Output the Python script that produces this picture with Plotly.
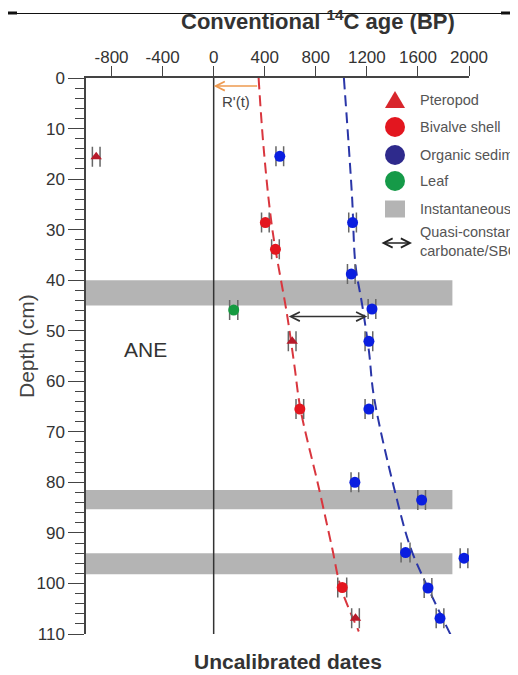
import plotly.graph_objects as go

# ---------------- data ----------------
pteropod_age = [-920, 615, 1111]
pteropod_depth = [15.6, 52.1, 106.9]
pteropod_err = [30, 30, 30]

bivalve_age = [405, 484, 675, 1007]
bivalve_depth = [28.6, 33.9, 65.5, 100.8]
bivalve_err = [30, 30, 30, 35]

organic_age = [518, 1088, 1078, 1240, 1216, 1216, 1106, 1629, 1503, 1961, 1679, 1773]
organic_depth = [15.5, 28.6, 38.8, 45.7, 52.1, 65.5, 80.0, 83.5, 93.9, 95.0, 100.9, 106.9]
organic_err = [30, 30, 30, 30, 30, 30, 30, 30, 35, 30, 30, 30]

leaf_age = [157]
leaf_depth = [45.9]
leaf_err = [32]

# age-depth model curves
red_curve_depth = [0, 14, 30, 47, 57, 65.5, 81, 93, 100.6, 109.5]
red_curve_age = [352, 392, 460, 576, 633, 680, 823, 928, 994, 1137]
blue_curve_depth = [0, 13.8, 24, 37, 45, 54, 63, 81, 93, 100.6, 110.2]
blue_curve_age = [1020, 1059, 1085, 1111, 1164, 1216, 1255, 1412, 1543, 1674, 1857]

# instantaneous deposits (depth ranges)
band_top = [40, 81.5, 94]
band_bottom = [45, 85.3, 98.2]
band_age_min = -1000
band_age_max = 1870

# offset arrows
offset_depth = 47.2
offset_ages = [576, 1203]
r_depth = 1.6
r_ages = [352, 0]

x_tickvals = [-800, -400, 0, 400, 800, 1200, 1600, 2000]
x_ticktext = ["-800", "-400", "0", "400", "800", "1200", "1600", "2000"]
y_tickvals = list(range(0, 111, 10))

# ---------------- layout helpers ----------------
OFF = 8  # page body margin
W, H = 510, 667
L, R, T, B = 78, 49, 70, 41
PW, PH = W - L - R, H - T - B


def px(x):  # window pixel -> paper
    return (x - OFF - L) / PW


def py(y):
    return 1 - (y - OFF - T) / PH


FONT = "Arial, 'Liberation Sans', sans-serif"
TXT = "#333333"
ERRC = "#666666"

fig = go.Figure()

# model curves
fig.add_trace(go.Scatter(x=red_curve_age, y=red_curve_depth, mode="lines",
                         line=dict(color="#d9363e", width=2, dash="11px,6px"),
                         line_shape="spline", hoverinfo="skip"))
fig.add_trace(go.Scatter(x=blue_curve_age, y=blue_curve_depth, mode="lines",
                         line=dict(color="#2a36a8", width=2, dash="11px,6px"),
                         line_shape="spline", hoverinfo="skip"))


def pts(x, y, err, color, symbol, size):
    return go.Scatter(
        x=x, y=y, mode="markers",
        marker=dict(color=color, symbol=symbol, size=size, line=dict(width=0)),
        error_x=dict(type="data", array=err, color=ERRC, thickness=1.5, width=10),
    )


fig.add_trace(pts(organic_age, organic_depth, organic_err, "#0a1ee0", "circle", 11))
fig.add_trace(pts(bivalve_age, bivalve_depth, bivalve_err, "#e3161f", "circle", 11))
fig.add_trace(pts(leaf_age, leaf_depth, leaf_err, "#159a40", "circle", 11))
fig.add_trace(pts(pteropod_age, pteropod_depth, pteropod_err, "#b81a2a", "triangle-up", 10))

shapes = []
for t0, b0 in zip(band_top, band_bottom):
    shapes.append(dict(type="rect", xref="x", yref="y", x0=band_age_min, x1=band_age_max,
                       y0=t0, y1=b0, fillcolor="#b4b4b4", line=dict(width=0), layer="below"))
# zero line
shapes.append(dict(type="line", xref="x", yref="y", x0=0, x1=0, y0=0, y1=110,
                   line=dict(color="#333333", width=1.5), layer="below"))

# page border line at top
shapes.append(dict(type="line", xref="paper", yref="paper", x0=px(0), x1=px(530), y0=py(13.5), y1=py(13.5),
                   line=dict(color="#111111", width=1.2)))
shapes.append(dict(type="line", xref="paper", yref="paper", x0=px(0), x1=px(17), y0=py(13), y1=py(13),
                   line=dict(color="#111111", width=3)))
shapes.append(dict(type="line", xref="paper", yref="paper", x0=px(501), x1=px(530), y0=py(13), y1=py(13),
                   line=dict(color="#111111", width=3)))

# legend symbols
LX = 395
leg_rows = [100, 127, 155, 181, 209]
# triangle
shapes.append(dict(type="path", xref="paper", yref="paper",
                   path=f"M {px(LX-10)},{py(leg_rows[0]+8)} L {px(LX+10)},{py(leg_rows[0]+8)} L {px(LX)},{py(leg_rows[0]-9)} Z",
                   fillcolor="#d8262c", line=dict(width=0)))
for yy, col in zip(leg_rows[1:4], ["#e3161f", "#2e2a8c", "#159a48"]):
    shapes.append(dict(type="circle", xref="paper", yref="paper",
                       x0=px(LX-10), x1=px(LX+10), y0=py(yy-10), y1=py(yy+10),
                       fillcolor=col, line=dict(width=0)))
shapes.append(dict(type="rect", xref="paper", yref="paper",
                   x0=px(LX-10), x1=px(LX+10), y0=py(leg_rows[4]-8.5), y1=py(leg_rows[4]+8.5),
                   fillcolor="#b4b4b4", line=dict(width=0)))

LEGF = dict(family=FONT, size=14.5, color="#555555")
annotations = []
leg_text = ["Pteropod", "Bivalve shell", "Organic sediment", "Leaf", "Instantaneous deposit"]
for yy, tx in zip(leg_rows, leg_text):
    annotations.append(dict(xref="paper", yref="paper", x=px(418), y=py(yy), text=tx,
                            showarrow=False, xanchor="left", yanchor="middle", font=LEGF))
annotations.append(dict(xref="paper", yref="paper", x=px(418), y=py(242), text="Quasi-constant<br>carbonate/SBC offset",
                        showarrow=False, xanchor="left", yanchor="middle", align="left", font=LEGF))
# legend double arrow
annotations.append(dict(xref="paper", yref="paper", x=px(412), y=py(243), ax=-32, ay=0,
                        axref="pixel", ayref="pixel", text="", showarrow=True,
                        arrowhead=5, startarrowhead=5, arrowside="end+start", arrowwidth=1.5,
                        arrowsize=1.2, startarrowsize=1.2, arrowcolor="#222222"))

# offset arrow in plot
annotations.append(dict(xref="x", yref="y", x=offset_ages[1], y=offset_depth, ax=offset_ages[0], ay=offset_depth,
                        axref="x", ayref="y", text="", showarrow=True,
                        arrowhead=5, startarrowhead=5, arrowside="end+start", arrowwidth=1.5,
                        arrowsize=1.2, startarrowsize=1.2, arrowcolor="#333333"))
# R'(t) arrow
annotations.append(dict(xref="x", yref="y", x=r_ages[1], y=r_depth, ax=r_ages[0], ay=r_depth,
                        axref="x", ayref="y", text="", showarrow=True,
                        arrowhead=5, arrowwidth=1.5, arrowsize=1.2, arrowcolor="#ee9a50"))


def label(x, y, text, size, color=TXT, **kw):
    annotations.append(dict(xref="paper", yref="paper", x=px(x), y=py(y), text=text,
                            showarrow=False, xanchor="center", yanchor="middle",
                            font=dict(family=FONT, size=size, color=color), **kw))


label(236, 102, "R'(t)", 15, "#444444")
label(145, 349, "ANE", 21)
label(318, 20, "<b>Conventional <sup>14</sup>C age (BP)</b>", 22)
label(288, 661, "<b>Uncalibrated dates</b>", 21)
label(26, 346, "Depth (cm)", 21, "#444444", textangle=-90)

fig.update_layout(
    width=W, height=H,
    margin=dict(l=L, r=R, t=T, b=B, pad=0),
    paper_bgcolor="white", plot_bgcolor="white",
    showlegend=False,
    shapes=shapes, annotations=annotations,
    font=dict(family=FONT, color=TXT),
    xaxis=dict(range=[-1000, 2000], side="top", showgrid=False, zeroline=False,
               showline=True, linecolor="#444444", linewidth=1.5,
               ticks="outside", ticklen=10, tickwidth=1.2, tickcolor="#444444",
               tickvals=x_tickvals, ticktext=x_ticktext, ticklabelstandoff=-4,
               tickfont=dict(family=FONT, size=17, color=TXT)),
    yaxis=dict(range=[110, 0], showgrid=False, zeroline=False,
               showline=True, linecolor="#444444", linewidth=1.5,
               ticks="outside", ticklen=16, tickwidth=1.2, tickcolor="#444444",
               tickvals=y_tickvals,
               minor=dict(dtick=2, ticks="outside", ticklen=9, tickwidth=1, tickcolor="#444444"),
               tickfont=dict(family=FONT, size=17, color=TXT)),
)

fig.write_html("out.html")
